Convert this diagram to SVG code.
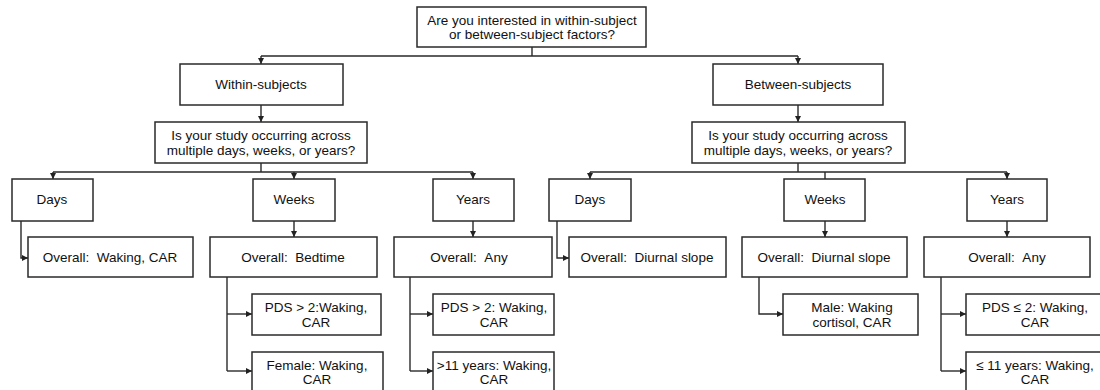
<svg xmlns="http://www.w3.org/2000/svg" width="1100" height="390" viewBox="0 0 1100 390">
<defs>
<marker id="ah" markerUnits="userSpaceOnUse" markerWidth="7" markerHeight="7" refX="6" refY="3" orient="auto">
<path d="M0,0 L6,3 L0,6 z" fill="#222"/>
</marker>
<style>
.b{fill:#fff;stroke:#2a2a2a;stroke-width:1.5}
.t{font-family:"Liberation Sans",Arial,sans-serif;font-size:13.5px;fill:#111;text-anchor:middle;dominant-baseline:central}
.c{fill:none;stroke:#2a2a2a;stroke-width:1.4}
.a{marker-end:url(#ah)}
</style>
</defs>
<rect width="1100" height="390" fill="#fff"/>
<g id="connectors">
<path class="c" d="M532,47 V56 M261,56 H798"/>
<path class="c a" d="M261,56 V64"/>
<path class="c a" d="M798,56 V64"/>
<path class="c a" d="M261,105 V122"/>
<path class="c a" d="M798,105 V122"/>
<path class="c" d="M261,163 V172 M53,172 H473"/>
<path class="c a" d="M53,172 V179"/>
<path class="c a" d="M294,172 V179"/>
<path class="c a" d="M473,172 V179"/>
<path class="c" d="M798,163 V172 M590,172 H1007 M825,172 V179"/>
<path class="c a" d="M590,172 V179"/>
<path class="c a" d="M1007,172 V179"/>
<path class="c a" d="M21,221 V258 H28"/>
<path class="c a" d="M294,221 V237"/>
<path class="c a" d="M473,221 V237"/>
<path class="c a" d="M557,221 V258 H569"/>
<path class="c a" d="M825,221 V237"/>
<path class="c a" d="M1007,221 V237"/>
<path class="c" d="M227,277 V371"/>
<path class="c a" d="M227,314 H252"/>
<path class="c a" d="M227,371 H252"/>
<path class="c" d="M410,277 V371"/>
<path class="c a" d="M410,314 H433"/>
<path class="c a" d="M410,371 H433"/>
<path class="c a" d="M759,277 V314 H783"/>
<path class="c" d="M941,277 V371"/>
<path class="c a" d="M941,314 H966"/>
<path class="c a" d="M941,371 H966"/>
</g>
<g id="root"><rect class="b" x="417" y="7" width="229" height="40"/><text class="t" x="532" y="20">Are you interested in within-subject</text><text class="t" x="532" y="34">or between-subject factors?</text></g>
<g id="within"><rect class="b" x="180" y="64" width="163" height="41"/><text class="t" x="261" y="84">Within-subjects</text></g>
<g id="between"><rect class="b" x="713" y="64" width="170" height="41"/><text class="t" x="798" y="84">Between-subjects</text></g>
<g id="q-within"><rect class="b" x="155" y="122" width="212" height="41"/><text class="t" x="261" y="135">Is your study occurring across</text><text class="t" x="261" y="150">multiple days, weeks, or years?</text></g>
<g id="q-between"><rect class="b" x="692" y="122" width="213" height="41"/><text class="t" x="798" y="135">Is your study occurring across</text><text class="t" x="798" y="150">multiple days, weeks, or years?</text></g>
<g id="w-days"><rect class="b" x="12" y="179" width="81" height="42"/><text class="t" x="52" y="199">Days</text></g>
<g id="w-weeks"><rect class="b" x="253" y="179" width="82" height="42"/><text class="t" x="294" y="199">Weeks</text></g>
<g id="w-years"><rect class="b" x="433" y="179" width="81" height="42"/><text class="t" x="473" y="199">Years</text></g>
<g id="b-days"><rect class="b" x="549" y="179" width="82" height="42"/><text class="t" x="590" y="199">Days</text></g>
<g id="b-weeks"><rect class="b" x="784" y="179" width="81" height="42"/><text class="t" x="825" y="199">Weeks</text></g>
<g id="b-years"><rect class="b" x="967" y="179" width="80" height="42"/><text class="t" x="1007" y="199">Years</text></g>
<g id="w-days-overall"><rect class="b" x="28" y="237" width="165" height="40"/><text class="t" x="110" y="257">Overall: &#160;Waking, CAR</text></g>
<g id="w-weeks-overall"><rect class="b" x="210" y="237" width="167" height="40"/><text class="t" x="293" y="257">Overall: &#160;Bedtime</text></g>
<g id="w-years-overall"><rect class="b" x="394" y="237" width="158" height="40"/><text class="t" x="469" y="257">Overall: &#160;Any</text></g>
<g id="b-days-overall"><rect class="b" x="569" y="237" width="157" height="40"/><text class="t" x="647" y="257">Overall: &#160;Diurnal slope</text></g>
<g id="b-weeks-overall"><rect class="b" x="742" y="237" width="165" height="40"/><text class="t" x="824" y="257">Overall: &#160;Diurnal slope</text></g>
<g id="b-years-overall"><rect class="b" x="924" y="237" width="166" height="40"/><text class="t" x="1007" y="257">Overall: &#160;Any</text></g>
<g id="w-weeks-pds"><rect class="b" x="252" y="294" width="129" height="41"/><text class="t" x="316" y="307">PDS &gt; 2:Waking,</text><text class="t" x="316" y="322">CAR</text></g>
<g id="w-weeks-female"><rect class="b" x="252" y="352" width="131" height="42"/><text class="t" x="317" y="365">Female: Waking,</text><text class="t" x="317" y="379">CAR</text></g>
<g id="w-years-pds"><rect class="b" x="433" y="294" width="121" height="41"/><text class="t" x="494" y="307">PDS &gt; 2: Waking,</text><text class="t" x="494" y="322">CAR</text></g>
<g id="w-years-age"><rect class="b" x="433" y="352" width="121" height="42"/><text class="t" x="494" y="365">&gt;11 years: Waking,</text><text class="t" x="494" y="379">CAR</text></g>
<g id="b-weeks-male"><rect class="b" x="783" y="294" width="135" height="41"/><text class="t" x="852" y="307">Male: Waking</text><text class="t" x="852" y="322">cortisol, CAR</text></g>
<g id="b-years-pds"><rect class="b" x="966" y="294" width="140" height="41"/><text class="t" x="1035" y="307">PDS ≤ 2: Waking,</text><text class="t" x="1035" y="322">CAR</text></g>
<g id="b-years-age"><rect class="b" x="966" y="352" width="140" height="42"/><text class="t" x="1035" y="365">≤ 11 years: Waking,</text><text class="t" x="1035" y="379">CAR</text></g>
</svg>
